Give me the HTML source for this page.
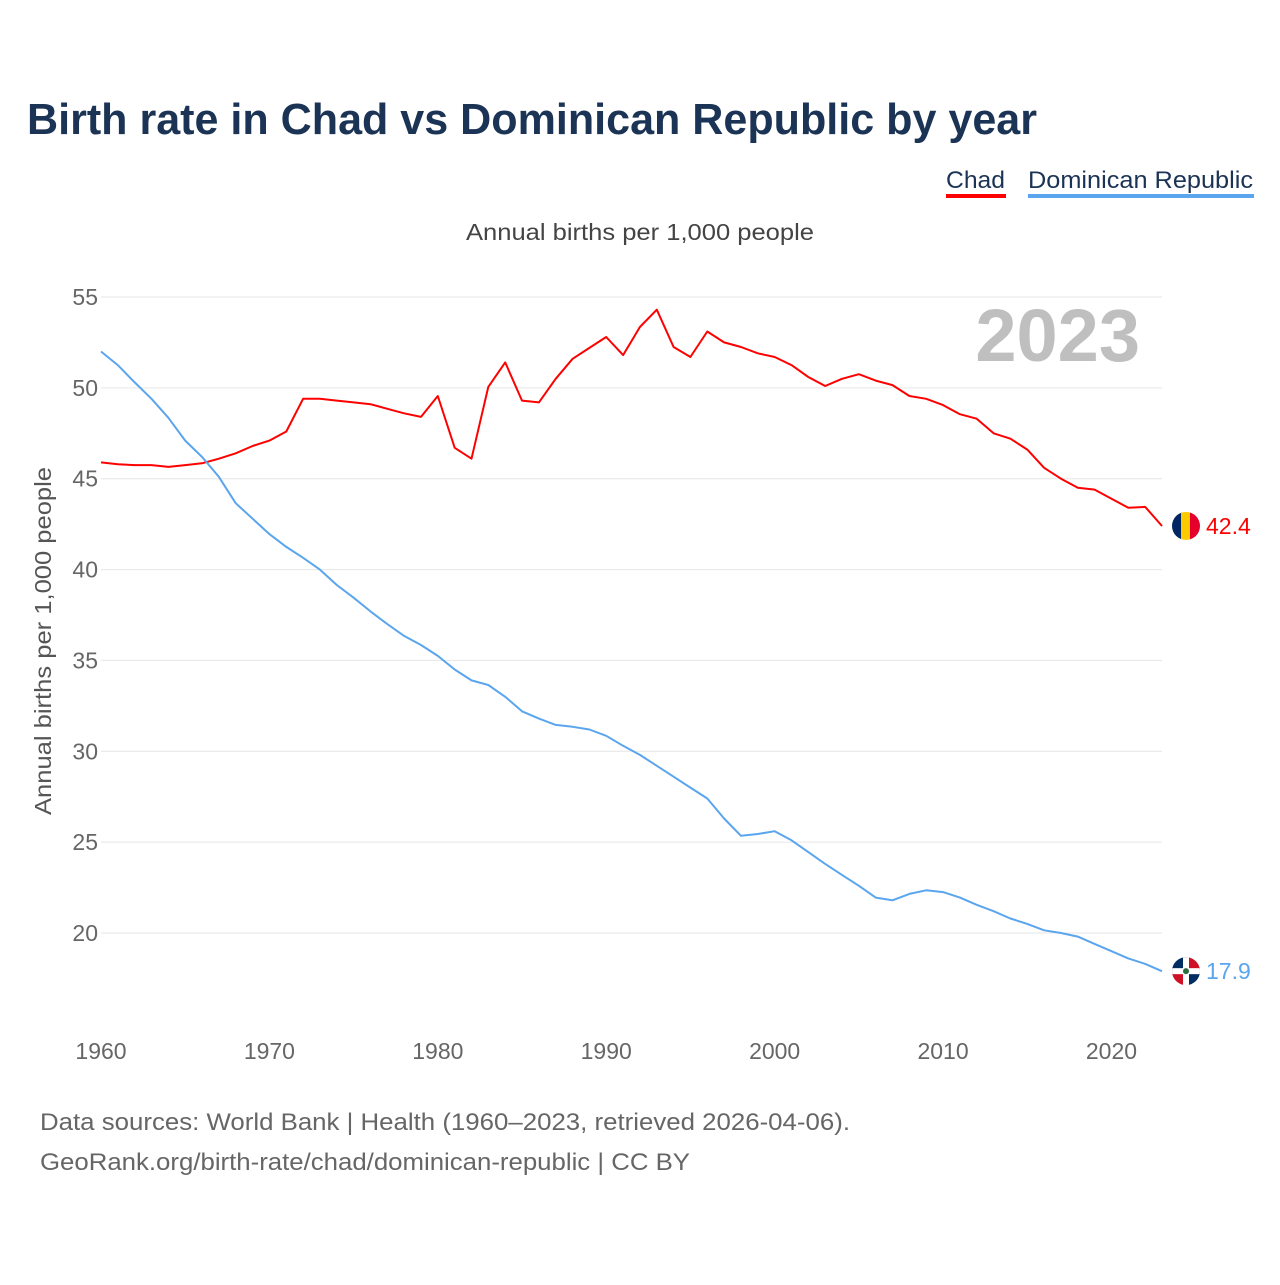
<!DOCTYPE html>
<html><head><meta charset="utf-8">
<style>
body{margin:0;background:#fff;width:1280px;height:1280px;overflow:hidden;font-family:"Liberation Sans",sans-serif}
</style></head>
<body>
<svg id="chart" width="1280" height="1280" xmlns="http://www.w3.org/2000/svg">
<text x="27" y="134" font-size="44" font-weight="bold" fill="#1b3354" textLength="1010" lengthAdjust="spacingAndGlyphs">Birth rate in Chad vs Dominican Republic by year</text>
<g>
<text x="946" y="188" font-size="24" fill="#1b3354" textLength="59" lengthAdjust="spacingAndGlyphs">Chad</text>
<rect x="946" y="194" width="60" height="4" fill="#ff0000"/>
<text x="1028" y="188" font-size="24" fill="#1b3354" textLength="225" lengthAdjust="spacingAndGlyphs">Dominican Republic</text>
<rect x="1028" y="194" width="226" height="4" fill="#5aa5ee"/>
</g>
<text x="466" y="240" font-size="23" fill="#444" textLength="348" lengthAdjust="spacingAndGlyphs">Annual births per 1,000 people</text>
<text x="1140" y="361" font-size="74" font-weight="bold" fill="#bfbfbf" text-anchor="end">2023</text>
<text transform="translate(51,641) rotate(-90)" font-size="23" fill="#555" text-anchor="middle" textLength="348" lengthAdjust="spacingAndGlyphs">Annual births per 1,000 people</text>
<g id="grid"></g><g id="xt"></g><g id="lines"></g>
<text x="40" y="1130" font-size="24" fill="#666" textLength="810" lengthAdjust="spacingAndGlyphs">Data sources: World Bank | Health (1960–2023, retrieved 2026-04-06).</text>
<text x="40" y="1170" font-size="24" fill="#666" textLength="650" lengthAdjust="spacingAndGlyphs">GeoRank.org/birth-rate/chad/dominican-republic | CC BY</text>
</svg>
<script>
const years=[];for(let y=1960;y<=2023;y++)years.push(y);
const chad=[45.9,45.8,45.75,45.75,45.65,45.75,45.85,46.1,46.4,46.8,47.1,47.6,49.4,49.4,49.3,49.2,49.1,48.85,48.6,48.4,49.55,46.7,46.1,50.05,51.4,49.3,49.2,50.5,51.6,52.2,52.8,51.8,53.35,54.3,52.25,51.7,53.1,52.5,52.25,51.9,51.7,51.25,50.6,50.1,50.5,50.75,50.4,50.15,49.55,49.4,49.05,48.55,48.3,47.5,47.2,46.6,45.6,45.0,44.5,44.4,43.9,43.4,43.45,42.4];
const dom=[52.0,51.25,50.3,49.4,48.35,47.1,46.2,45.1,43.65,42.8,41.95,41.25,40.65,40.0,39.15,38.45,37.7,37.0,36.35,35.85,35.25,34.5,33.9,33.65,33.0,32.2,31.8,31.45,31.35,31.2,30.85,30.3,29.8,29.2,28.6,28.0,27.4,26.3,25.35,25.45,25.6,25.1,24.45,23.8,23.2,22.6,21.95,21.8,22.15,22.35,22.25,21.95,21.55,21.2,20.8,20.5,20.15,20.0,19.8,19.4,19.0,18.6,18.3,17.9];
const yTicks=[20,25,30,35,40,45,50,55];
const xTicks=[1960,1970,1980,1990,2000,2010,2020];
const X=yr=>101+(yr-1960)*(1162-101)/63;
const Y=v=>297+(55-v)*(933-297)/35;
const NS='http://www.w3.org/2000/svg';
function mk(t,a,p){const e=document.createElementNS(NS,t);for(const k in a)e.setAttribute(k,a[k]);p.appendChild(e);return e;}
const g=document.getElementById('grid');
yTicks.forEach(v=>{
 const l=mk('line',{x1:101,x2:1162,y1:Y(v),y2:Y(v),stroke:'#e6e6e6','stroke-width':1},g);
 
 
 const t=mk('text',{x:98,y:Y(v)+8,'font-size':23,fill:'#666','text-anchor':'end'},g);t.textContent=v;
 
 
});
const xt=document.getElementById('xt');
xTicks.forEach(v=>{
 const t=mk('text',{x:X(v),y:1059,'font-size':23,fill:'#666','text-anchor':'middle'},xt);t.textContent=v;
 
 
});
const L=document.getElementById('lines');
function series(d,c,name){
 const p=mk('path',{d:d.map((v,i)=>(i?'L':'M')+X(years[i]).toFixed(1)+','+Y(v).toFixed(1)).join(''),fill:'none',stroke:c,'stroke-width':2,'stroke-linejoin':'round'},L);
 
 
 const last=d[d.length-1];
 const t=mk('text',{x:1206,y:Y(last)+8,'font-size':23,fill:c},L);t.textContent=last.toFixed(1);
 
 
 return Y(last);
}
const cy=series(chad,'#ff0000','chad');
const dy=series(dom,'#5aa5ee','dominican-republic');
const cf=mk('g',{},L);


const cp1=mk('clipPath',{id:'c1'},cf);mk('circle',{cx:1186,cy:cy,r:14},cp1);
mk('rect',{x:1172,y:cy-14,width:10,height:28,fill:'#002664','clip-path':'url(#c1)'},cf);
mk('rect',{x:1181,y:cy-14,width:10,height:28,fill:'#fecb00','clip-path':'url(#c1)'},cf);
mk('rect',{x:1190,y:cy-14,width:10,height:28,fill:'#e4002b','clip-path':'url(#c1)'},cf);
const df=mk('g',{},L);


const cp=mk('clipPath',{id:'c2'},df);mk('circle',{cx:1186,cy:dy,r:14},cp);
mk('rect',{x:1172,y:dy-14,width:14,height:14,fill:'#002d62','clip-path':'url(#c2)'},df);
mk('rect',{x:1186,y:dy-14,width:14,height:14,fill:'#ce1126','clip-path':'url(#c2)'},df);
mk('rect',{x:1172,y:dy,width:14,height:14,fill:'#ce1126','clip-path':'url(#c2)'},df);
mk('rect',{x:1186,y:dy,width:14,height:14,fill:'#002d62','clip-path':'url(#c2)'},df);
mk('rect',{x:1183,y:dy-14,width:6,height:28,fill:'#fff','clip-path':'url(#c2)'},df);
mk('rect',{x:1172,y:dy-3,width:28,height:6,fill:'#fff','clip-path':'url(#c2)'},df);
mk('circle',{cx:1186,cy:dy,r:3,fill:'#2a6e3f'},df);
</script>
</body></html>
